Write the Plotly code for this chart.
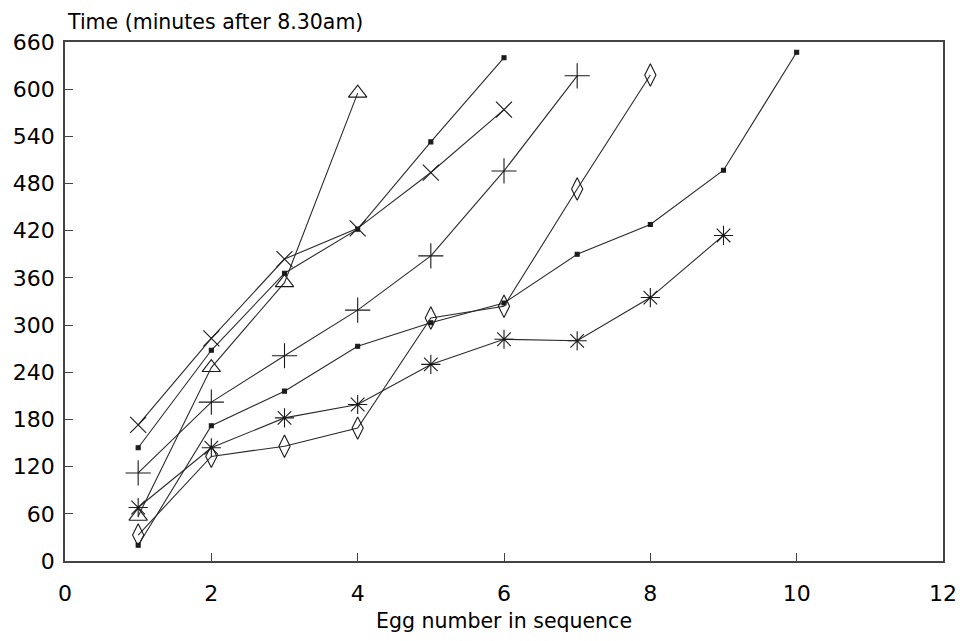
import plotly.graph_objects as go

# Egg number in sequence (x) and time in minutes after 8.30am (y) per female
triangle_x = [1, 2, 3, 4]
triangle_y = [57, 246, 354, 595]

cross_x = [1, 2, 3, 4, 5, 6]
cross_y = [173, 283, 384, 423, 494, 574]

square_a_x = [1, 2, 3, 4, 5, 6]
square_a_y = [144, 268, 366, 422, 533, 640]

plus_x = [1, 2, 3, 4, 5, 6, 7]
plus_y = [112, 202, 261, 319, 388, 496, 617]

square_b_x = [1, 2, 3, 4, 5, 6, 7, 8, 9, 10]
square_b_y = [20, 172, 216, 273, 303, 328, 390, 428, 497, 647]

asterisk_x = [1, 2, 3, 4, 5, 6, 7, 8, 9]
asterisk_y = [68, 144, 182, 199, 250, 282, 280, 335, 414]

diamond_x = [1, 2, 3, 4, 5, 6, 7, 8]
diamond_y = [33, 133, 146, 169, 309, 324, 473, 618]

x_ticks = [0, 2, 4, 6, 8, 10, 12]
y_ticks = [0, 60, 120, 180, 240, 300, 360, 420, 480, 540, 600, 660]

series = [
    (square_b_x, square_b_y, "square", 4),
    (asterisk_x, asterisk_y, "asterisk-open", 16),
    (diamond_x, diamond_y, "diamond-tall-open", 16),
    (plus_x, plus_y, "cross-thin-open", 18),
    (square_a_x, square_a_y, "square", 4),
    (cross_x, cross_y, "x-thin-open", 16),
    (triangle_x, triangle_y, "triangle-up-open", 16),
]

fig = go.Figure()
for xs, ys, sym, size in series:
    fig.add_trace(go.Scatter(
        x=xs, y=ys, mode="lines+markers",
        line=dict(color="#2a2a2a", width=1.1),
        marker=dict(symbol=sym, size=size, color="#1a1a1a",
                    line=dict(color="#1a1a1a", width=1.1)),
        showlegend=False,
    ))

tick_font = dict(family="DejaVu Sans", size=22, color="#000")
title_font = dict(family="DejaVu Sans", size=20.5, color="#000")

fig.update_layout(
    width=969, height=641,
    margin=dict(l=65, r=18, t=42, b=79),
    paper_bgcolor="white", plot_bgcolor="white",
    font=tick_font,
    xaxis=dict(
        range=[0, 12], tickvals=x_ticks, ticks="inside", ticklen=8,
        tickcolor="#444", tickwidth=1.2,
        showline=True, linecolor="#444", linewidth=1.5, mirror=True,
        showgrid=False, zeroline=False, tickfont=tick_font,
        ticklabelstandoff=12,
        title=dict(text="Egg number in sequence", font=title_font, standoff=8),
    ),
    yaxis=dict(
        range=[0, 660], tickvals=y_ticks, ticks="inside", ticklen=8,
        tickcolor="#444", tickwidth=1.2,
        showline=True, linecolor="#444", linewidth=1.5, mirror=True,
        showgrid=False, zeroline=False, tickfont=tick_font,
        ticklabelstandoff=4,
    ),
    annotations=[dict(
        text="Time (minutes after 8.30am)", xref="paper", yref="paper",
        x=0, y=1, xanchor="left", yanchor="bottom", yshift=6,
        showarrow=False, font=title_font,
    )],
)

fig.write_html("out.html")
